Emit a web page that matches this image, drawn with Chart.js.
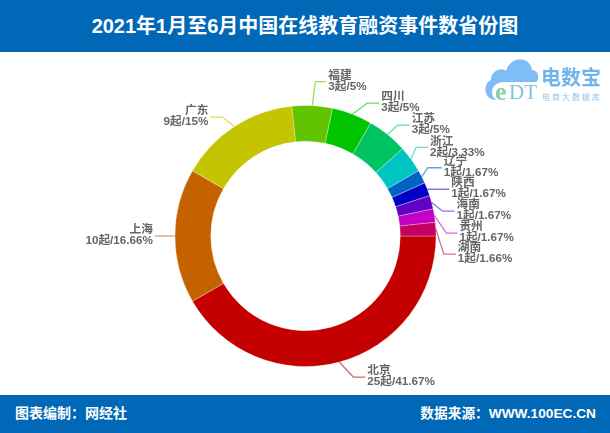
<!DOCTYPE html>
<html>
<head>
<meta charset="utf-8">
<script src="https://cdn.jsdelivr.net/npm/chart.js@4"></script>
<style>
  body { margin: 0; background: #fff; font-family: "Liberation Sans", "Noto Sans CJK SC", sans-serif; }
  #page { position: relative; width: 610px; height: 433px; overflow: hidden; }
  .band { position: absolute; left: 0; width: 610px; background: #0168b7; color: #fff; font-weight: 700; }
  #header { top: 0; height: 52px; line-height: 52px; font-size: 20px; text-align: center; }
  #footer { top: 395px; height: 38px; line-height: 37px; font-size: 14px; }
  #footer .left { position: absolute; left: 15px; }
  #footer .right { position: absolute; right: 14px; font-size: 13.7px; }
  #chart { position: absolute; left: 0; top: 0; }
  #logo { position: absolute; left: 480px; top: 54px; }
</style>
</head>
<body>
<div id="page">
  <div class="band" id="header">2021年1月至6月中国在线教育融资事件数省份图</div>
  <canvas id="chart" width="610" height="433"></canvas>
  <svg id="logo" width="130" height="52" viewBox="0 0 130 52">
    <path d="M16 46 C4 46 2 30 11 26 C11 16 22 13 26 17 C31 1 50 2 52 16 C59 16 60 26 56 28 L22 28 C16 29 12 33 12 38 C12 42 14 45 17 46 Z" fill="#7fbdf7"/>
    <text x="15" y="46" font-family="Liberation Serif" font-size="26" font-weight="700" fill="#8ccfa6">e</text>
    <text x="29" y="45" font-family="Liberation Serif" font-size="21" fill="#7fc4e0">DT</text>
    <text x="61" y="31" font-family="Noto Sans CJK SC" font-size="20" font-weight="700" fill="#6fb4ec">电数宝</text>
    <text x="62" y="46" font-family="Noto Sans CJK SC" font-size="8" fill="#8fc2ea" letter-spacing="2">电商大数据库</text>
  </svg>
  <div class="band" id="footer">
    <span class="left">图表编制：网经社</span>
    <span class="right">数据来源：WWW.100EC.CN</span>
  </div>
</div>
<script>
const provinces = ['北京', '上海', '广东', '福建', '四川', '江苏', '浙江', '辽宁', '陕西', '海南', '贵州', '湖南'];
const counts = [25, 10, 9, 3, 3, 3, 2, 1, 1, 1, 1, 1];
const shares = ['41.67%', '16.66%', '15%', '5%', '5%', '5%', '3.33%', '1.67%', '1.67%', '1.67%', '1.67%', '1.66%'];
const sliceColors = ['#c40000', '#c46200', '#c4c400', '#62c400', '#00c400', '#00c462', '#00c4c4', '#0062c4', '#0000c4', '#6200c4', '#c400c4', '#c40062'];
// leader line: elbow offset from the slice's outer edge, then horizontal run
const elbowDx = [14, -20, -12, 3, 15, 10, 5, 6, 0, 11, 12, 8];
const elbowDy = [15, 0, -9.5, -24, -11, -9.5, -12, -9, 0, 9, 17.5, 25];
const runLength = [12, 0, 12, 11, 12, 12, 12, 14, 22, 12, 11, 12];

const leaderLabels = {
  id: 'leaderLabels',
  afterDatasetsDraw(chart) {
    const ctx = chart.ctx;
    chart.getDatasetMeta(0).data.forEach((arc, i) => {
      const p = arc.getProps(['x', 'y', 'startAngle', 'endAngle', 'outerRadius']);
      const mid = (p.startAngle + p.endAngle) / 2;
      const x0 = p.x + Math.cos(mid) * p.outerRadius;
      const y0 = p.y + Math.sin(mid) * p.outerRadius;
      const x1 = x0 + elbowDx[i];
      const y1 = y0 + elbowDy[i];
      const leftSide = elbowDx[i] < 0;
      const x2 = x1 + (leftSide ? -runLength[i] : runLength[i]);

      ctx.save();
      ctx.strokeStyle = sliceColors[i];
      ctx.globalAlpha = 0.6;
      ctx.lineWidth = 1.3;
      ctx.beginPath();
      ctx.moveTo(x0, y0);
      ctx.lineTo(x1, y1);
      ctx.lineTo(x2, y1);
      ctx.stroke();
      ctx.restore();

      const textX = x2 + (leftSide ? -2 : 2);
      ctx.save();
      ctx.fillStyle = '#666';
      ctx.font = '700 11.7px "Liberation Sans", "Noto Sans CJK SC"';
      ctx.textAlign = leftSide ? 'right' : 'left';
      ctx.textBaseline = 'middle';
      ctx.fillText(provinces[i], textX, y1 - 6);
      ctx.fillText(counts[i] + '起/' + shares[i], textX, y1 + 5);
      ctx.restore();
    });
  }
};

new Chart(document.getElementById('chart'), {
  type: 'doughnut',
  data: {
    labels: provinces,
    datasets: [{
      data: counts,
      backgroundColor: sliceColors,
      borderColor: '#fff',
      borderWidth: 0.3
    }]
  },
  options: {
    responsive: false,
    animation: false,
    rotation: 90,
    radius: 130.5,
    cutout: '72.6%',
    layout: { padding: { left: 1, top: 39 } },
    plugins: { legend: { display: false }, tooltip: { enabled: false } }
  },
  plugins: [leaderLabels]
});
</script>
</body>
</html>
